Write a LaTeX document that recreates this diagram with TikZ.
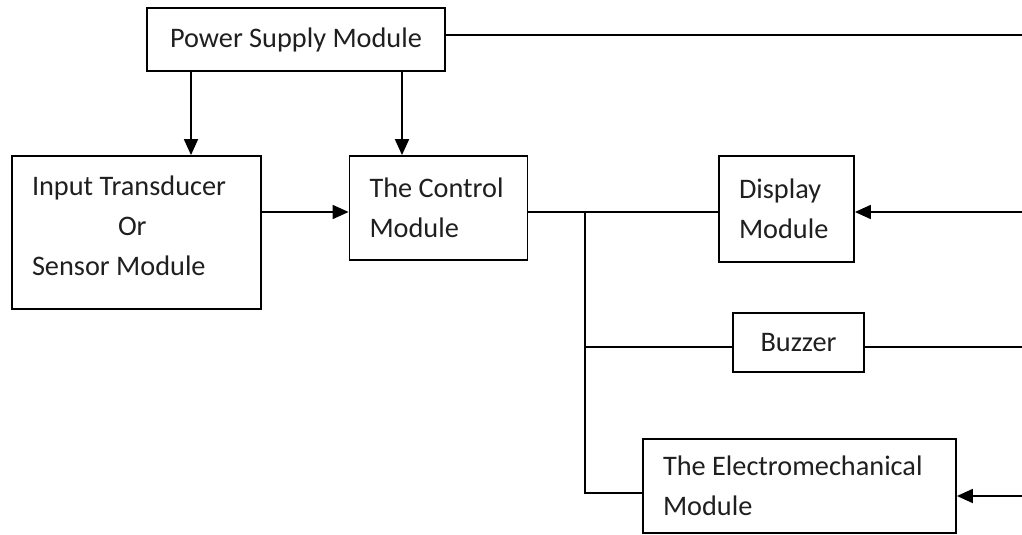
\documentclass[tikz,border=0pt]{standalone}
\usepackage{fontspec}
\setmainfont{Carlito}
\usetikzlibrary{arrows.meta}
\begin{document}
\begin{tikzpicture}[x=1pt,y=-1pt,
  box/.style={draw=black,line width=1.8pt,rectangle,inner ysep=0pt,
    font=\fontsize{28.3}{40}\selectfont,text=black!88},
  lbox/.style={box,align=flush left,inner xsep=20pt,text width=#1},
  cbox/.style={box,align=center,inner xsep=0pt},
  wire/.style={line width=1.8pt},
  arr/.style={wire,-{Triangle[length=16pt,width=14pt]}}]
\useasboundingbox (0,0) rectangle (1022,535);
\node[cbox,minimum width=298pt,minimum height=63pt] (psu) at (296,39.5) {Power Supply Module};
\node[lbox=209pt,minimum height=153pt] (inp) at (136.5,232.5) {Input Transducer\\\hspace*{86pt}Or\\Sensor Module\\[-26pt]\mbox{}};
\node[lbox=138pt,minimum height=104pt] (ctl) at (438.5,208) {The Control\\Module};
\node[lbox=95pt,minimum height=106pt] (dsp) at (786.5,209) {Display\\Module};
\node[cbox,minimum width=131pt,minimum height=59pt] (buz) at (798.5,342.5) {Buzzer};
\node[lbox=273pt,minimum height=94pt] (emm) at (799.5,486) {The Electromechanical\\Module};
% power line to right edge
\coordinate (r1) at (1022,35);
\draw[wire] (psu.east |- r1) -- (r1);
% power to input and control
\draw[arr] ([xshift=54.5pt]inp.north |- psu.south) -- ([xshift=54.5pt]inp.north);
\draw[arr] ([xshift=-36.5pt]ctl.north |- psu.south) -- ([xshift=-36.5pt]ctl.north);
% input to control
\coordinate (c1) at (349,212);
\draw[arr] (inp.east |- c1) -- (ctl.west |- c1);
% control outputs
\coordinate (j1) at (585,212);
\coordinate (j2) at (585,347);
\coordinate (j3) at (585,493);
\draw[wire] (ctl.east |- j1) -- (dsp.west |- j1);
\draw[wire] (j1) -- (j3) -- (emm.west |- j3);
\draw[wire] (j2) -- (buz.west |- j2);
% right side
\coordinate (r2) at (1022,212);
\coordinate (r3) at (1022,347);
\coordinate (r4) at (1022,496);
\draw[arr] (r2) -- (dsp.east |- r2);
\draw[wire] (buz.east |- r3) -- (r3);
\draw[arr] (r4) -- (emm.east |- r4);
\end{tikzpicture}
\end{document}
